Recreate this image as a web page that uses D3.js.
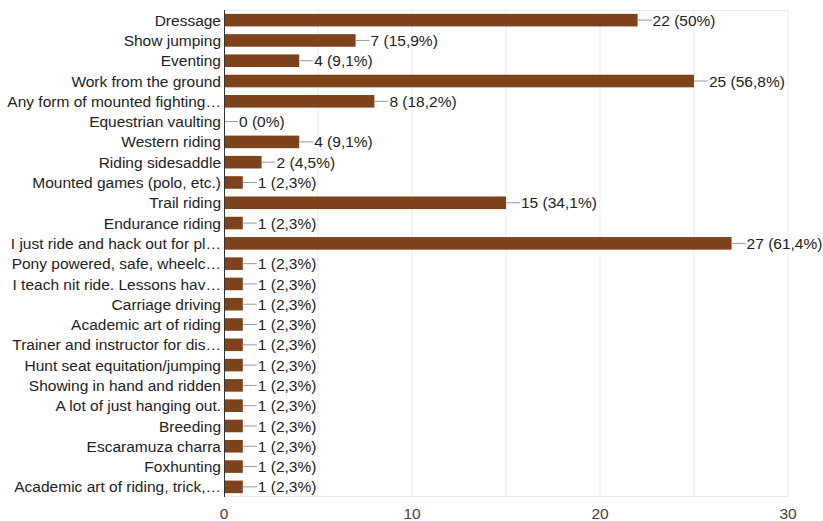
<!DOCTYPE html>
<html>
<head>
<meta charset="utf-8">
<script src="https://cdn.jsdelivr.net/npm/d3@7"></script>
<style>
  body { margin: 0; background: #fff; }
  svg text { font-family: Arial, "Liberation Sans", sans-serif; }
</style>
</head>
<body>
<svg id="chart" width="823" height="521"></svg>
<script>
// Survey answers, in the order shown
var categories = [
  "Dressage", "Show jumping", "Eventing", "Work from the ground",
  "Any form of mounted fighting…", "Equestrian vaulting", "Western riding",
  "Riding sidesaddle", "Mounted games (polo, etc.)", "Trail riding",
  "Endurance riding", "I just ride and hack out for pl…",
  "Pony powered, safe, wheelc…", "I teach nit ride. Lessons hav…",
  "Carriage driving", "Academic art of riding", "Trainer and instructor for dis…",
  "Hunt seat equitation/jumping", "Showing in hand and ridden",
  "A lot of just hanging out.", "Breeding", "Escaramuza charra", "Foxhunting",
  "Academic art of riding, trick,…"
];
var counts = [22, 7, 4, 25, 8, 0, 4, 2, 1, 15, 1, 27, 1, 1, 1, 1, 1, 1, 1, 1, 1, 1, 1, 1];
var percents = ["50%", "15,9%", "9,1%", "56,8%", "18,2%", "0%", "9,1%", "4,5%", "2,3%",
  "34,1%", "2,3%", "61,4%", "2,3%", "2,3%", "2,3%", "2,3%", "2,3%", "2,3%", "2,3%",
  "2,3%", "2,3%", "2,3%", "2,3%", "2,3%"];
var ticks = [0, 10, 20, 30];

var svg = d3.select("svg#chart"),
    margin = {top: 10, right: 35, bottom: 24, left: 224},
    width = 823 - margin.left - margin.right,
    height = 521 - margin.top - margin.bottom,
    fontSize = 15.5;

var x = d3.scaleLinear().domain([0, 30]).range([0, width]),
    y = d3.scaleBand().domain(categories).range([0, height]).paddingInner(0.38).paddingOuter(0.19);

var g = svg.append("g").attr("transform", "translate(" + margin.left + "," + margin.top + ")");

// gridlines every 5
g.selectAll("line.grid")
    .data(d3.range(5, 31, 5))
  .enter().append("line")
    .attr("class", "grid")
    .attr("x1", function(d) { return x(d); })
    .attr("x2", function(d) { return x(d); })
    .attr("y1", 0).attr("y2", height)
    .attr("stroke", "#ebebeb").attr("stroke-width", 1);

g.append("line")
    .attr("x1", 0).attr("x2", width).attr("y1", 0.5).attr("y2", 0.5)
    .attr("stroke", "#ebebeb");
g.append("line")
    .attr("x1", 0).attr("x2", width).attr("y1", height - 0.5).attr("y2", height - 0.5)
    .attr("stroke", "#ebebeb");

// bars
g.selectAll("rect.bar")
    .data(counts)
  .enter().append("rect")
    .attr("class", "bar")
    .attr("x", 0)
    .attr("y", function(d, i) { return y(categories[i]); })
    .attr("width", function(d) { return x(d); })
    .attr("height", y.bandwidth())
    .attr("fill", "#7f431b");

// leader lines + value labels
g.selectAll("line.lead")
    .data(counts)
  .enter().append("line")
    .attr("class", "lead")
    .attr("x1", function(d) { return x(d); })
    .attr("x2", function(d) { return x(d) + 14; })
    .attr("y1", function(d, i) { return y(categories[i]) + y.bandwidth() / 2; })
    .attr("y2", function(d, i) { return y(categories[i]) + y.bandwidth() / 2; })
    .attr("stroke", "#999").attr("stroke-width", 1);

g.selectAll("text.val")
    .data(counts)
  .enter().append("text")
    .attr("class", "val")
    .attr("x", function(d) { return x(d) + 15; })
    .attr("y", function(d, i) { return y(categories[i]) + y.bandwidth() / 2; })
    .attr("dy", "0.36em")
    .attr("font-size", fontSize)
    .attr("fill", "#222")
    .text(function(d, i) { return d + " (" + percents[i] + ")"; });

// category labels
g.selectAll("text.cat")
    .data(categories)
  .enter().append("text")
    .attr("class", "cat")
    .attr("x", -3)
    .attr("y", function(d) { return y(d) + y.bandwidth() / 2; })
    .attr("dy", "0.36em")
    .attr("text-anchor", "end")
    .attr("font-size", fontSize)
    .attr("fill", "#222")
    .text(function(d) { return d; });

// zero axis
g.append("line")
    .attr("x1", 0.5).attr("x2", 0.5).attr("y1", 0).attr("y2", height)
    .attr("stroke", "#333").attr("stroke-width", 1);

// x tick labels
g.selectAll("text.tick")
    .data(ticks)
  .enter().append("text")
    .attr("class", "tick")
    .attr("x", function(d) { return x(d); })
    .attr("y", height + 22)
    .attr("text-anchor", "middle")
    .attr("font-size", fontSize)
    .attr("fill", "#444")
    .text(function(d) { return d; });
</script>
</body>
</html>
